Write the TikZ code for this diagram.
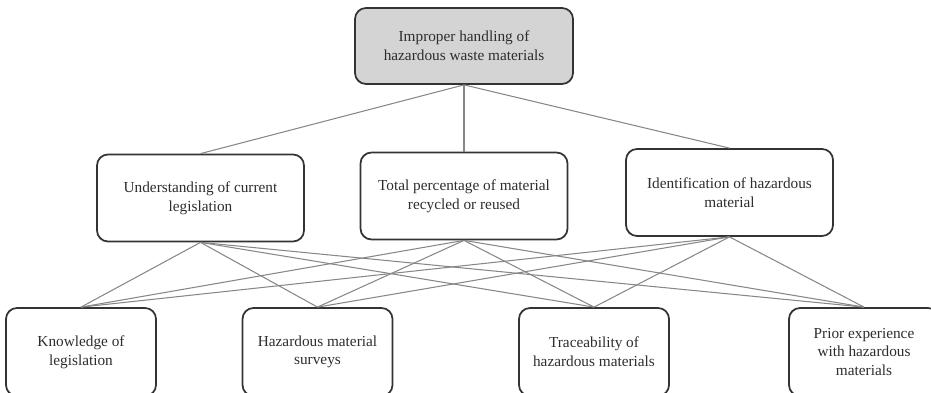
\documentclass[tikz,border=0pt]{standalone}
\usepackage{fontspec}
\setmainfont{Liberation Serif}
\usepackage{tikz}
\usetikzlibrary{positioning}
\definecolor{boxgray}{RGB}{212,212,212}
\definecolor{linegray}{RGB}{135,135,135}
\definecolor{txtgray}{RGB}{45,45,45}

\begin{document}
\begin{tikzpicture}[
	crit/.style={draw=black!80, line width=1pt, rounded corners=0.22cm, align=center,
		text=txtgray, font=\fontsize{8.7}{10.6}\selectfont, inner sep=0pt},
	goal/.style={crit, fill=boxgray, minimum width=4.36cm, minimum height=1.52cm},
	mid/.style={crit, minimum width=4.14cm, minimum height=1.74cm},
	leaf/.style={crit, minimum width=3cm, minimum height=1.76cm},
	link/.style={draw=linegray, line width=0.6pt}
	]
	\useasboundingbox (0,0) rectangle (18.62,-7.86);
	\node[goal] (goal) at (9.28,-0.92) {Improper handling of\\hazardous waste materials};
	\node[mid] (underst) at (4.01,-3.96) {Understanding of current\\legislation};
	\node[mid] (recycl) at (9.28,-3.92) {Total percentage of material\\recycled or reused};
	\node[mid] (ident) at (14.59,-3.85) {Identification of hazardous\\material};
	\node[leaf] (knowl) at (1.62,-7.04) {Knowledge of\\legislation};
	\node[leaf] (survey) at (6.35,-7.04) {Hazardous material\\surveys};
	\node[leaf] (trace) at (11.88,-7.04) {Traceability of\\hazardous materials};
	\node[leaf] (prior) at (17.28,-7.04) {Prior experience\\with hazardous\\materials};
	\draw[link] (goal.south) -- (underst.north);
	\draw[link] (goal.south) -- (recycl.north);
	\draw[link] (goal.south) -- (ident.north);
	\foreach \m in {underst,recycl,ident}
		\foreach \b in {knowl,survey,trace,prior}
			\draw[link] (\m.south) -- (\b.north);
\end{tikzpicture}
\end{document}
